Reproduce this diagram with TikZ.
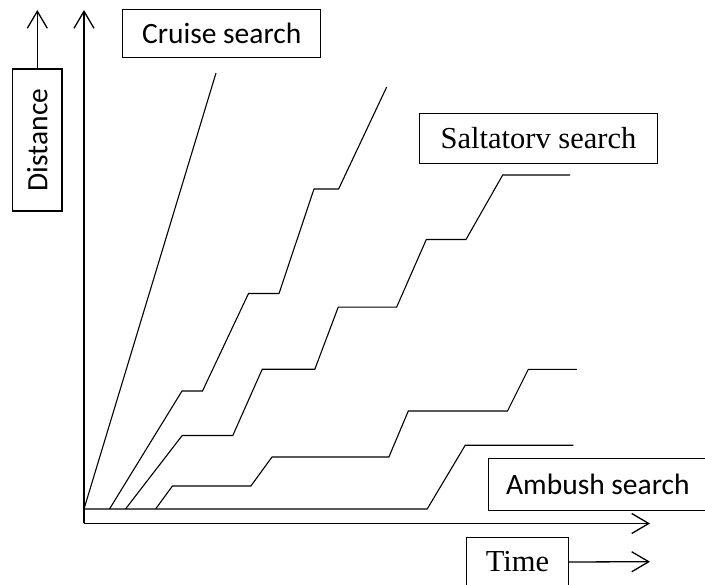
\documentclass[tikz,border=0pt]{standalone}
\usepackage{fontspec}
\setmainfont{Liberation Serif}
\newfontfamily\calib{Carlito}
\usetikzlibrary{arrows.meta}
\begin{document}
\begin{tikzpicture}[x=1pt,y=-1pt,
  axis/.style={line width=1.3pt,-{Straight Barb[length=17pt,width=20pt,line width=1.3pt]}},
  track/.style={line width=1.1pt,line join=miter},
  labelbox/.style={draw,line width=1.2pt,inner sep=0pt,anchor=center},
  sanslabel/.style={font=\calib\fontsize{29.5}{34}\selectfont},
  seriflabel/.style={font=\fontsize{30.5}{35}\selectfont}]
\useasboundingbox (0,0) rectangle (705,585);

% label boxes
\node[labelbox,sanslabel,minimum width=198pt,minimum height=48pt] (cruise) at (221.7,33.3) {Cruise search};
\node[labelbox,seriflabel,minimum width=238pt,minimum height=50pt] (salt) at (538.5,138.3) {Saltatorv search};
\node[labelbox,sanslabel,minimum width=219pt,minimum height=52pt] (ambush) at (597.9,484.2) {Ambush search};
\node[labelbox,seriflabel,minimum width=101.6pt,minimum height=49pt] (time) at (517.5,562) {Time};
\node[labelbox,sanslabel,rotate=90,minimum width=142pt,minimum height=49.3pt] (dist) at (37.3,140) {Distance};

% axes
\coordinate (corner) at (84,523.5);
\coordinate (ytip) at (84,10);
\coordinate (xtip) at (650,523.5);
\draw[axis] (corner) -- (ytip);
\draw[axis] (corner) -- (xtip);

% label arrows
\coordinate (dtip) at (dist.east |- 0,10);
\draw[axis] (dist.east) -- (dtip);
\coordinate (ttip) at (650,561.7);
\draw[axis] (time.east) -- (ttip);

% movement tracks
\coordinate (o1) at (84,509);
\draw[track] (o1) -- (216,73);
\draw[track] (109.5,509) -- (182,391) -- (202.5,391) -- (248.5,293.5) -- (279,293.5)
  -- (314,189) -- (338.6,189) -- (386.7,87);
\draw[track] (125.5,509) -- (182.2,435.5) -- (232.8,435.5) -- (262.2,369.3) -- (314.8,369.3)
  -- (338.2,307.2) -- (396.6,307.2) -- (426.3,239.5) -- (466,239.5) -- (502.7,175) -- (570,175);
\draw[track] (155.6,509) -- (172.4,486) -- (250.9,486) -- (272,457) -- (388.9,457)
  -- (408.3,411) -- (507.5,411) -- (528.3,369.4) -- (576.8,369.4);
\draw[track] (o1) -- (427.2,509) -- (465.2,445.3) -- (573.3,445.3);
\end{tikzpicture}
\end{document}
